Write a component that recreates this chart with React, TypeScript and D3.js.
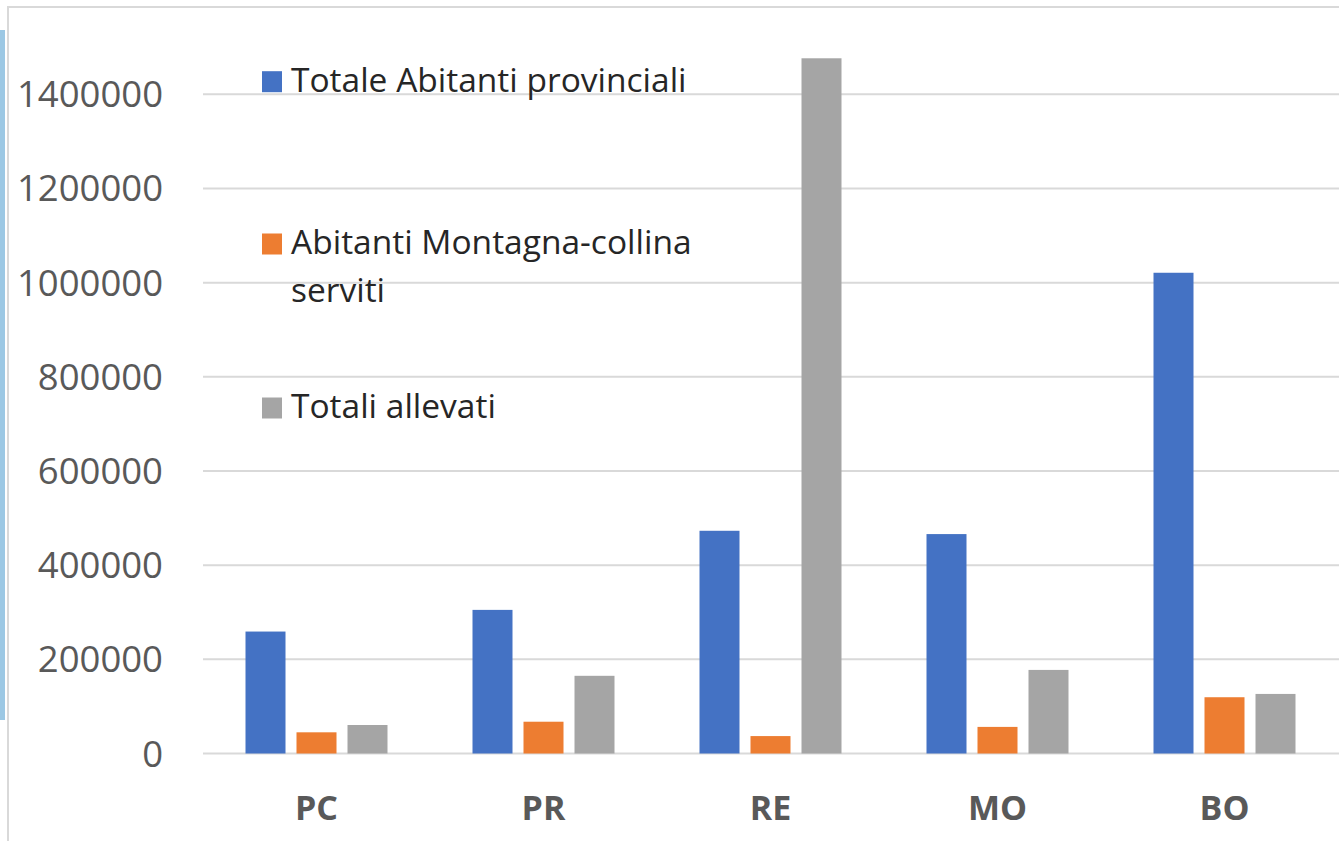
import React, { useEffect, useRef } from 'react';
import * as d3 from 'd3';

const categories = ['PC', 'PR', 'RE', 'MO', 'BO'];
const seriesNames = ['Totale Abitanti provinciali', 'Abitanti Montagna-collina serviti', 'Totali allevati'];
const totaleAbitanti = [259000, 305000, 473000, 466000, 1021000];
const abitantiMontagna = [45000, 67500, 37000, 56500, 119500];
const totaliAllevati = [60500, 165000, 1476500, 177500, 126500];
const yTicks = [0, 200000, 400000, 600000, 800000, 1000000, 1200000, 1400000];
const colors = ['#4472C4', '#ED7D31', '#A5A5A5'];

const W = 1339, H = 841;

const App = () => {
  const ref = useRef<SVGSVGElement>(null);

  useEffect(() => {
    const svg = d3.select(ref.current);
    svg.selectAll('*').remove();

    const font = '"Open Sans", "Noto Sans", sans-serif';
    const values = [totaleAbitanti, abitantiMontagna, totaliAllevati];

    svg.append('rect').attr('width', W).attr('height', H).attr('fill', '#fff');

    // leftover strip of a neighbouring picture
    svg.append('rect').attr('x', 0).attr('y', 30).attr('width', 5).attr('height', 690).attr('fill', '#9cc8e4');

    // chart frame
    svg.append('rect')
      .attr('x', 8).attr('y', 7)
      .attr('width', W + 20).attr('height', H + 20)
      .attr('fill', '#fff')
      .attr('stroke', '#D9D9D9')
      .attr('stroke-width', 2);

    const x = d3.scaleBand().domain(categories).range([203, 1338]);
    const x1 = d3.scaleBand()
      .domain(seriesNames)
      .range([(x.bandwidth() - 142) / 2, (x.bandwidth() + 142) / 2])
      .paddingInner(0.2157);
    const y = d3.scaleLinear().domain([0, 1400000]).range([753.5, 94.3]);

    // gridlines
    svg.append('g')
      .selectAll('line')
      .data(yTicks)
      .enter()
      .append('line')
      .attr('x1', 203).attr('x2', W)
      .attr('y1', d => y(d)).attr('y2', d => y(d))
      .attr('stroke', '#D9D9D9')
      .attr('stroke-width', 2);

    // y tick labels
    svg.append('g')
      .selectAll('text')
      .data(yTicks)
      .enter()
      .append('text')
      .attr('x', 163)
      .attr('y', d => y(d) + 13)
      .attr('text-anchor', 'end')
      .attr('font-family', font)
      .attr('font-size', 36.5)
      .attr('fill', '#595959')
      .text(d => String(d));

    // bars
    const groups = svg.append('g')
      .selectAll('g')
      .data(categories)
      .enter()
      .append('g')
      .attr('transform', d => `translate(${x(d)},0)`);

    groups.selectAll('rect')
      .data((_, i) => seriesNames.map((s, k) => ({ s, k, v: values[k][i] })))
      .enter()
      .append('rect')
      .attr('x', d => x1(d.s)!)
      .attr('y', d => y(d.v))
      .attr('width', x1.bandwidth())
      .attr('height', d => y(0) - y(d.v))
      .attr('fill', d => colors[d.k]);

    // category labels
    svg.append('g')
      .selectAll('text')
      .data(categories)
      .enter()
      .append('text')
      .attr('x', d => x(d)! + x.bandwidth() / 2)
      .attr('y', 820)
      .attr('text-anchor', 'middle')
      .attr('font-family', font)
      .attr('font-weight', 'bold')
      .attr('font-size', 34)
      .attr('fill', '#595959')
      .text(d => d);

    // legend
    const legendLines = [['Totale Abitanti provinciali'], ['Abitanti Montagna-collina', 'serviti'], ['Totali allevati']];
    const legendY = [91.7, 254, 418];
    const legend = svg.append('g');
    legendLines.forEach((lines, i) => {
      legend.append('rect')
        .attr('x', 262).attr('y', legendY[i] - 20.5)
        .attr('width', 20).attr('height', 21)
        .attr('fill', colors[i]);
      lines.forEach((line, j) => {
        legend.append('text')
          .attr('x', 291)
          .attr('y', legendY[i] + j * 48)
          .attr('font-family', font)
          .attr('font-size', 33.5)
          .attr('fill', '#262626')
          .text(line);
      });
    });
  }, []);

  return (
    <svg ref={ref} width={W} height={H}
      style={{ position: 'absolute', left: 0, top: 0, display: 'block' }} />
  );
};

export default App;
